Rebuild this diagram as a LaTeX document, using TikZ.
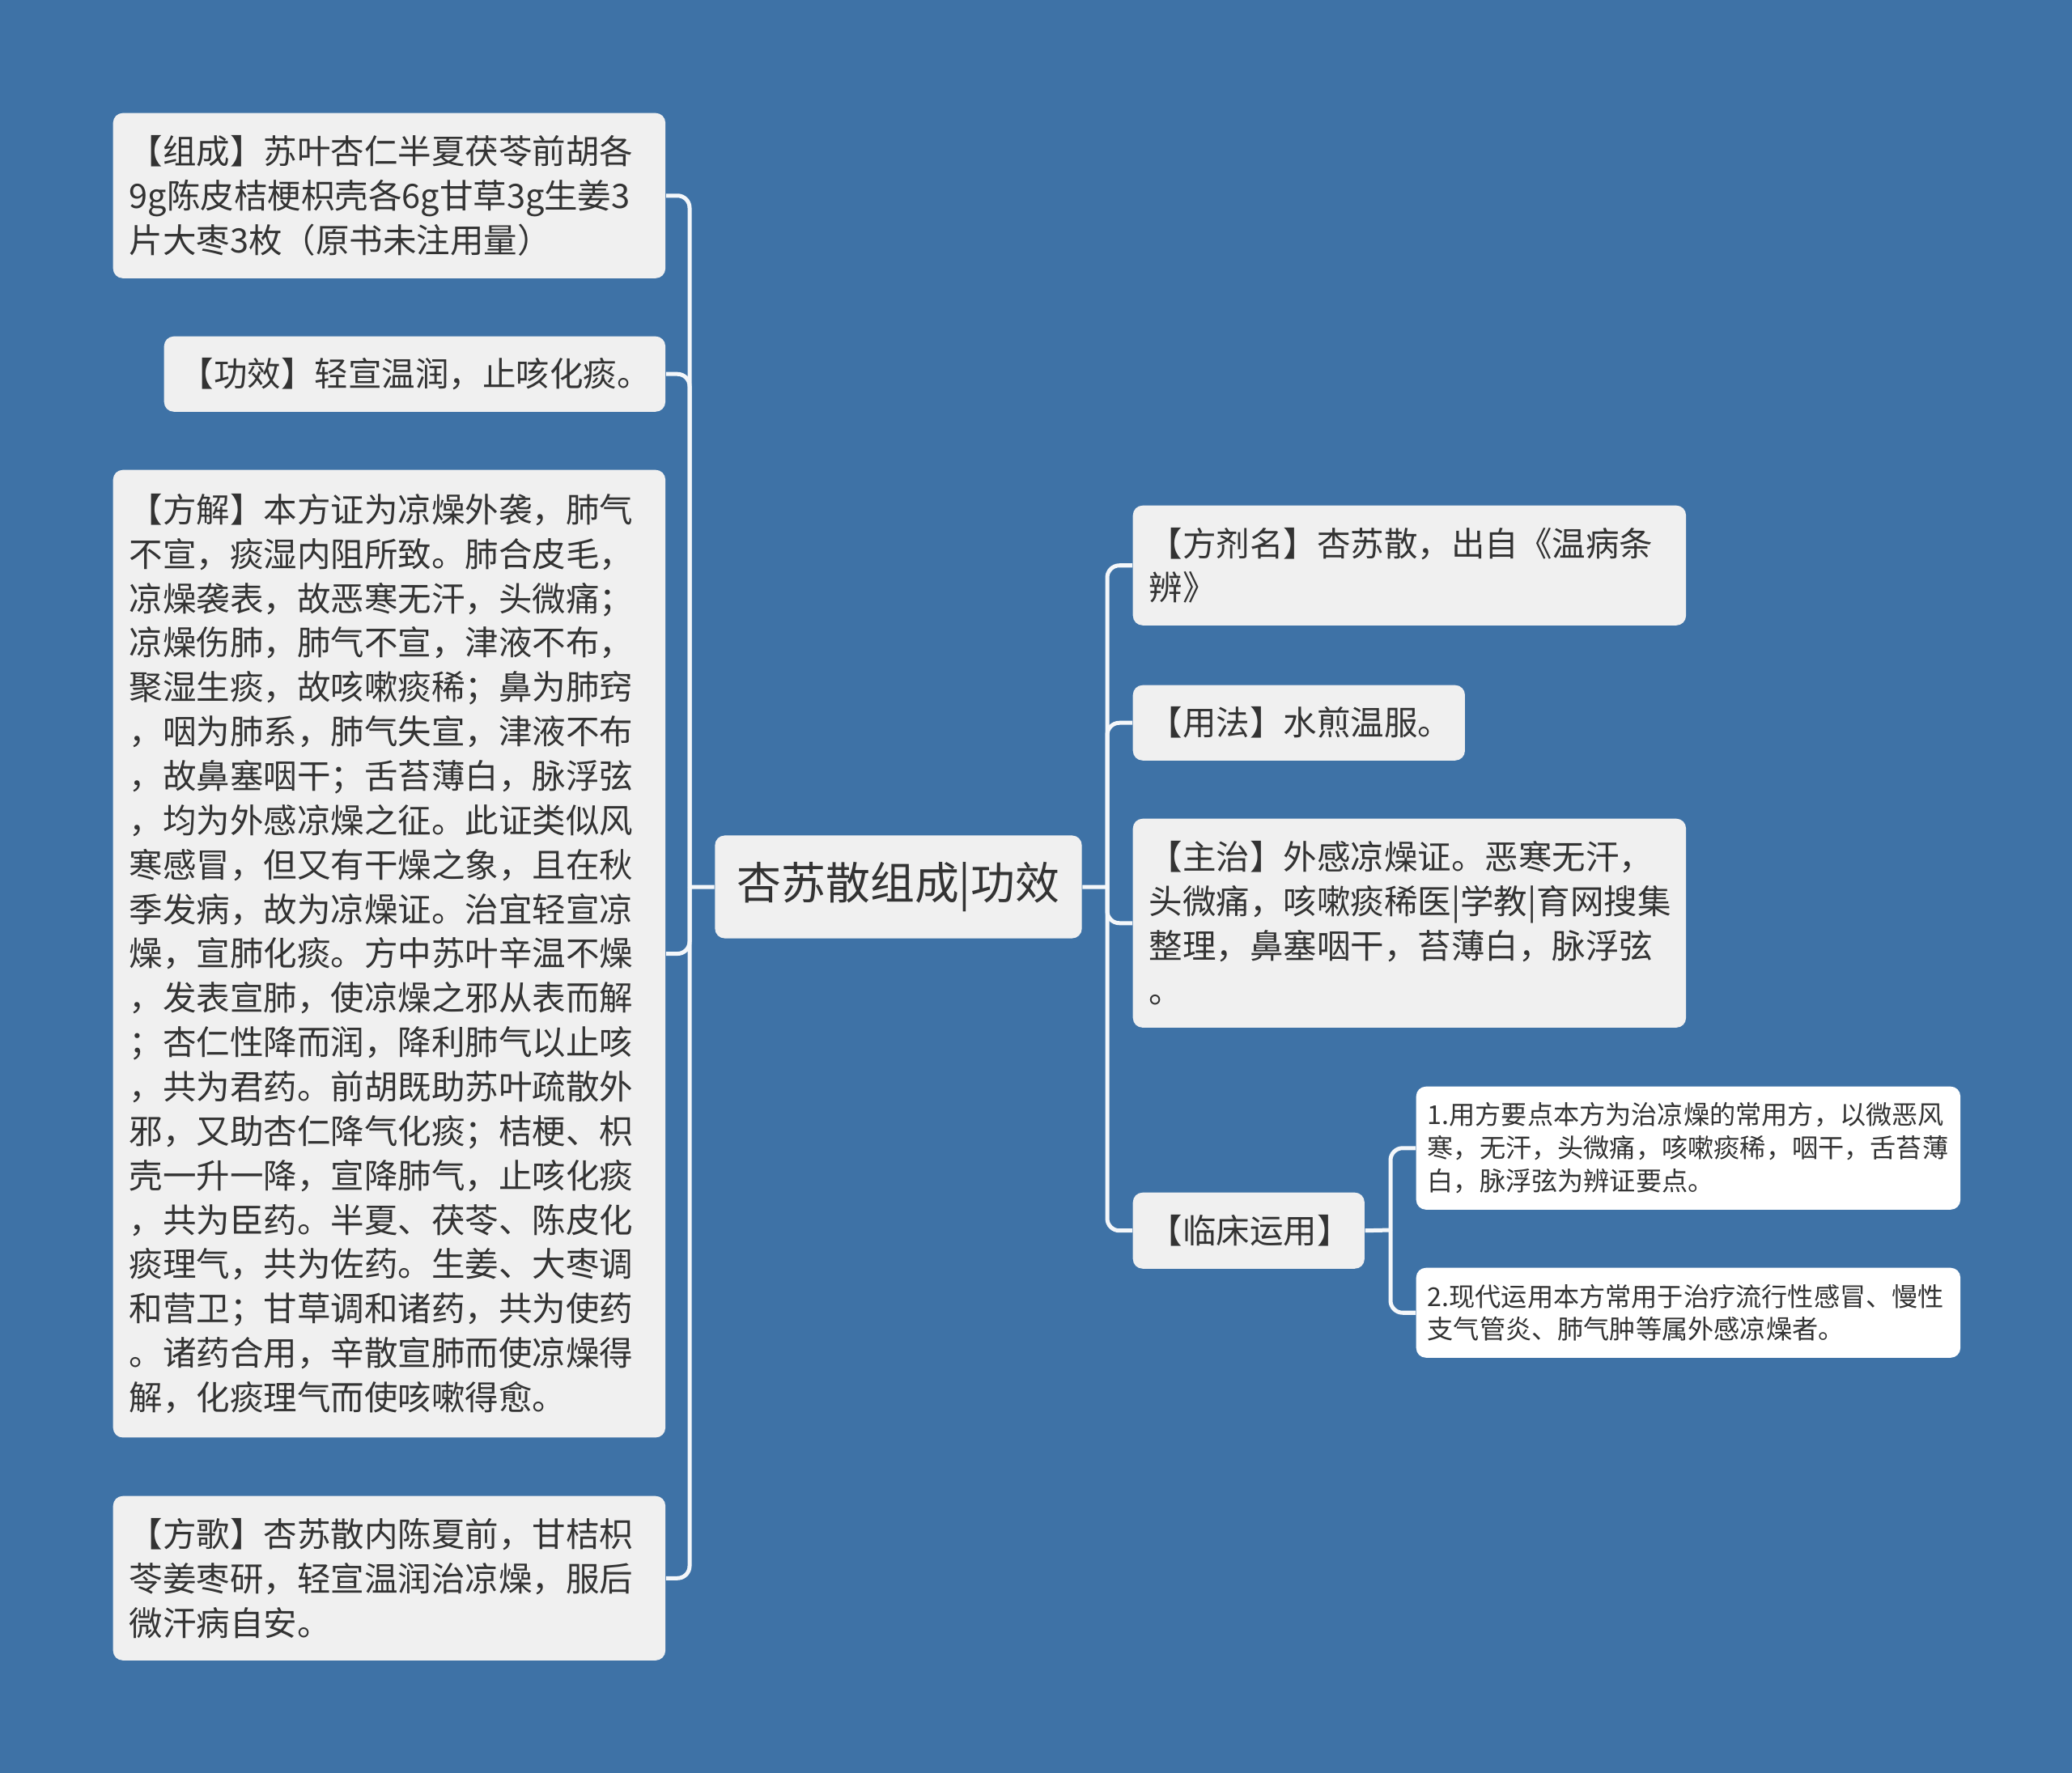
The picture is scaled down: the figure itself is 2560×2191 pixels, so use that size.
\documentclass[tikz,border=0pt]{standalone}
\usepackage{fontspec}
\setmainfont{Noto Sans CJK SC}
\definecolor{bgblue}{HTML}{3E72A6}
\definecolor{boxgray}{HTML}{F0F0F0}
\definecolor{txt}{HTML}{333333}
\definecolor{linecol}{HTML}{F4F7FA}

\begin{document}
\begin{tikzpicture}[x=0.01cm, y=-0.01cm,
  every node/.style = {anchor=north west, fill=boxgray, text=txt, rounded corners=0.12cm,
                       align=left, inner xsep=0.2cm, inner ysep=0pt},
  topic/.style = {font=\fontsize{11.8pt}{15.6pt}\selectfont, text width=#1},
  leaf/.style = {fill=white, inner xsep=0.14cm, font=\fontsize{9.15pt}{11.6pt}\selectfont, text width=#1},
  link/.style = {draw=linecol, line width=0.05cm, rounded corners=0.15cm}
  ]
  \fill[bgblue] (0,0) rectangle (2560,2191);

  % root
  \node[anchor=center, align=center, text width=4.13cm, minimum height=1.27cm,
        font=\fontsize{15.6pt}{20pt}\selectfont] (root) at (1110,1096) {杏苏散组成|功效};

  % left side
  \node[topic=6.42cm, minimum height=2.04cm] (zc) at (139,139)
    {【组成】苏叶杏仁半夏茯苓前胡各\\9g陈皮桔梗枳壳各6g甘草3g生姜3\\片大枣3枚（原书未注用量）};
  \node[topic=5.79cm, minimum height=0.93cm] (gx) at (202,415) {【功效】轻宣温润，止咳化痰。};
  \node[topic=6.42cm, minimum height=11.95cm] (fj) at (139,580)
    {【方解】本方证为凉燥外袭，肺气\\不宣，痰湿内阻所致。肺合皮毛，\\凉燥袭表，故恶寒无汗，头微痛；\\
     凉燥伤肺，肺气不宣，津液不布，\\聚湿生痰，故咳嗽痰稀；鼻为肺窍\\，咽为肺系，肺气失宣，津液不布\\
     ，故鼻塞咽干；舌苔薄白，脉浮弦\\，均为外感凉燥之征。此证类似风\\寒感冒，但又有干燥之象，且在秋\\
     季发病，故为凉燥证。治宜轻宣凉\\燥，宣肺化痰。方中苏叶辛温不燥\\，发表宣肺，使凉燥之邪从表而解\\
     ；杏仁性降而润，降利肺气以止咳\\，共为君药。前胡既助苏叶疏散外\\邪，又助杏仁降气化痰；桔梗、枳\\
     壳一升一降，宣降肺气，止咳化痰\\，共为臣药。半夏、茯苓、陈皮化\\痰理气，共为佐药。生姜、大枣调\\
     和营卫；甘草调和诸药，共为使药\\。诸药合用，辛散宣肺而使凉燥得\\解，化痰理气而使咳嗽得愈。};
  \node[topic=6.42cm, minimum height=2.03cm] (fg) at (139,1848)
    {【方歌】杏苏散内陈夏前，甘桔枳\\苓姜枣研，轻宣温润治凉燥，服后\\微汗病自安。};

  % right side
  \node[topic=6.43cm, minimum height=1.48cm] (fjm) at (1399,624) {【方剂名】杏苏散，出自《温病条\\辨》};
  \node[topic=3.70cm, minimum height=0.93cm] (yf) at (1399,846) {【用法】水煎温服。};
  \node[topic=6.43cm, minimum height=2.58cm] (zz) at (1399,1011)
    {【主治】外感凉燥证。恶寒无汗，\\头微痛，咳嗽痰稀医|学教|育网搜集\\整理，鼻塞咽干，苔薄白，脉浮弦\\。};
  \node[topic=2.46cm, minimum height=0.94cm] (lc) at (1399,1473) {【临床运用】};

  \node[leaf=6.44cm, minimum height=1.52cm] (ly1) at (1749,1342)
    {1.用方要点本方为治凉燥的常用方，以微恶风\\寒，无汗，头微痛，咳嗽痰稀，咽干，舌苔薄\\白，脉浮弦为辨证要点。};
  \node[leaf=6.44cm, minimum height=1.11cm] (ly2) at (1749,1566)
    {2.现代运用本方常用于治疗流行性感冒、慢性\\支气管炎、肺气肿等属外感凉燥者。};

  % connectors
  \coordinate (lj) at (852,1096);
  \coordinate (rj) at (1368,1096);
  \coordinate (cj) at (1718,1520);
  \draw[link] (root.west) -- (lj) (root.east) -- (rj) (lc.east) -- (cj);
  \foreach \n in {zc,gx,fj,fg} \draw[link] (lj) |- (\n.east);
  \foreach \n in {fjm,yf,zz,lc} \draw[link] (rj) |- (\n.west);
  \foreach \n in {ly1,ly2} \draw[link] (cj) |- (\n.west);
\end{tikzpicture}
\end{document}
